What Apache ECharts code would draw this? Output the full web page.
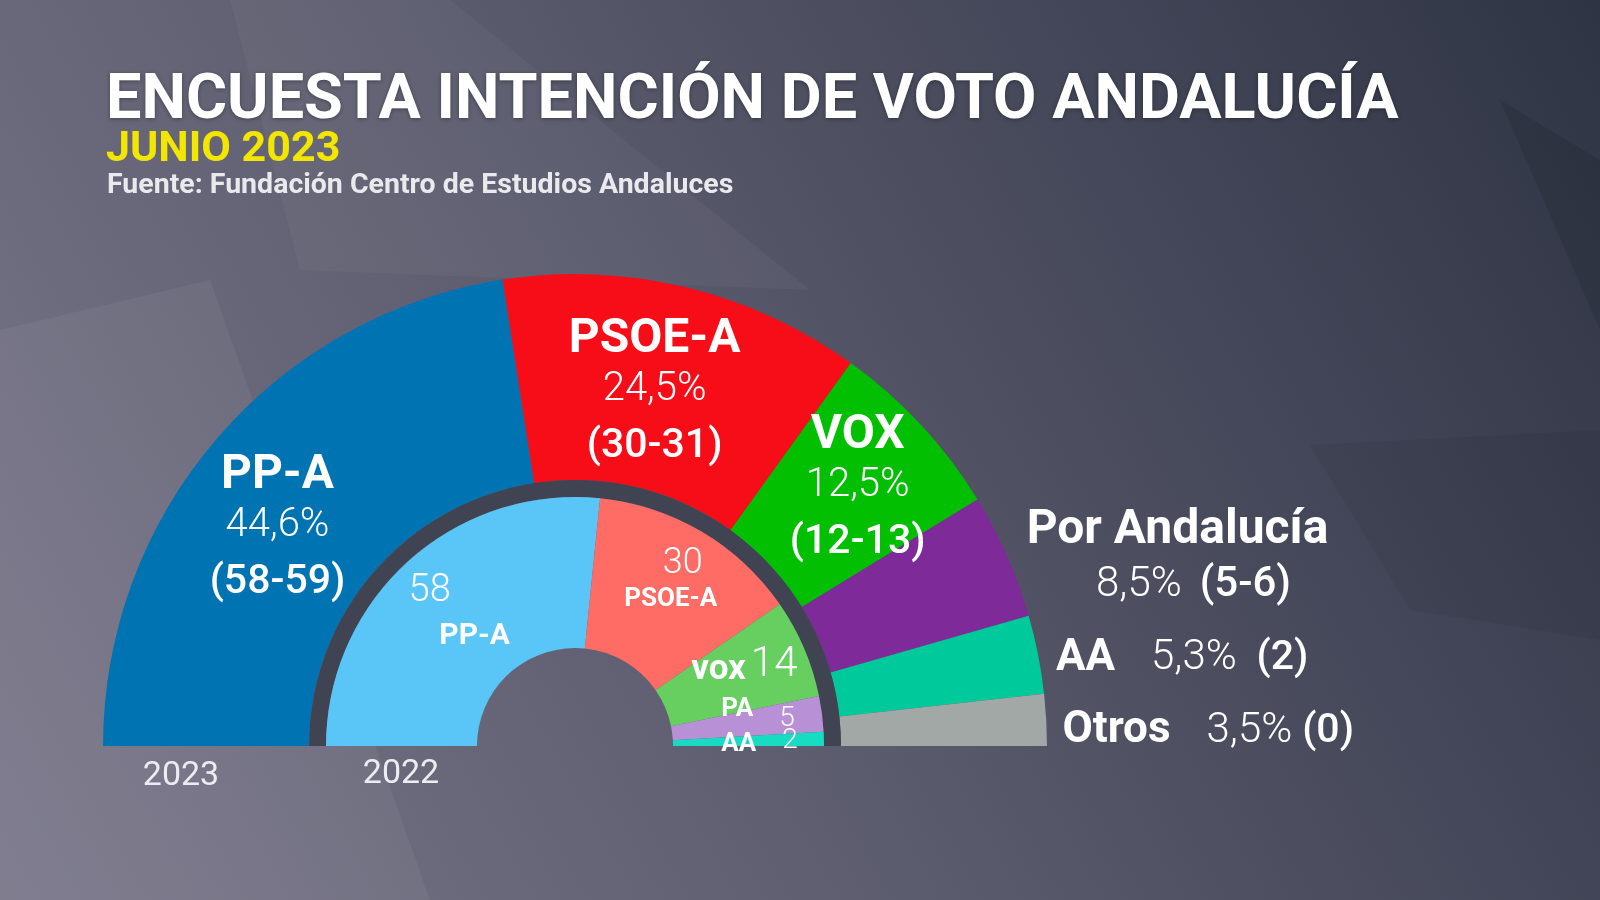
<!DOCTYPE html>
<html>
<head>
<meta charset="utf-8">
<title>Encuesta intención de voto Andalucía</title>
<script src="https://cdn.jsdelivr.net/npm/echarts@6/dist/echarts.min.js"></script>
<style>
	* { margin: 0; padding: 0; }
	html, body { width: 100%; height: 100%; }
	#main { width: 1600px; height: 900px; }
</style>
</head>
<body>
<div id="main"></div>
<script type="text/javascript">
	// ---- datos ----
	var titleText = 'ENCUESTA INTENCIÓN DE VOTO ANDALUCÍA';
	var subtitleText = 'JUNIO 2023';
	var sourceText = 'Fuente: Fundación Centro de Estudios Andaluces';
	var yearLabels = ['2023', '2022'];

	// encuesta 2023 (anillo exterior)
	var parties2023 = ['PP-A', 'PSOE-A', 'VOX', 'Por Andalucía', 'AA', 'Otros'];
	var votePct2023 = [44.6, 24.5, 12.5, 8.5, 5.3, 3.5];
	var seatRange2023 = ['58-59', '30-31', '12-13', '5-6', '2', '0'];
	var colors2023 = ['#0073b3', '#f70d18', '#02bf02', '#7e2a99', '#00c99b', '#a1a8a5'];

	// elecciones 2022 (anillo interior)
	var parties2022 = ['PP-A', 'PSOE-A', 'vox', 'PA', 'AA'];
	var seats2022 = [58, 30, 14, 5, 2];
	var colors2022 = ['#5ac5f7', '#ff6b65', '#66cf60', '#b890d6', '#17dbc3'];

	var FONT = 'Roboto';
	var CX = 575, CY = 746;

	function fmtPct(v) {
		return v.toFixed(1).replace('.', ',') + '%';
	}

	var myChart = echarts.init(document.getElementById('main'));

	var data2023 = [];
	for (var i = 0; i < parties2023.length; i++) {
		data2023.push({ name: parties2023[i], value: votePct2023[i], itemStyle: { color: colors2023[i] } });
	}
	var data2022 = [];
	for (var i = 0; i < parties2022.length; i++) {
		data2022.push({ name: parties2022[i], value: seats2022[i], itemStyle: { color: colors2022[i] } });
	}

	// desplazamientos de etiquetas respecto a la posicion 'inside' del sector
	var outerLabelShift = [
		{ dx: -15, dy: 29 },
		{ dx: -7, dy: 13 },
		{ dx: 10, dy: 0 },
		{ dx: 262, dy: -35 },
		{ dx: 116, dy: -15, align: 'left' },
		{ dx: 116, dy: 6, align: 'left' }
	];
	var innerLabelShift = [
		{ dx: 18, dy: -2 },
		{ dx: 6, dy: -14 },
		{ dx: 7, dy: -11 },
		{ dx: 8, dy: -14 },
		{ dx: 8, dy: 4 }
	];

	var bg = new echarts.graphic.LinearGradient(0, 1, 1, 0, [
		{ offset: 0, color: '#7a778a' },
		{ offset: 0.45, color: '#5a5b6d' },
		{ offset: 1, color: '#2f3445' }
	]);

	option = {
		backgroundColor: bg,
		animation: false,
		title: [{
			text: titleText,
			left: 106, top: 71, padding: 0,
			textStyle: { fontFamily: FONT, fontSize: 63, fontWeight: 'bold', color: '#ffffff', lineHeight: 63,
				textShadowColor: 'rgba(0,0,0,0.35)', textShadowBlur: 4, textShadowOffsetY: 1 }
		}, {
			text: subtitleText,
			left: 106, top: 129, padding: 0,
			textStyle: { fontFamily: FONT, fontSize: 43, fontWeight: 'bold', color: '#f3e600', lineHeight: 43 }
		}, {
			text: sourceText,
			left: 107, top: 171, padding: 0,
			textStyle: { fontFamily: FONT, fontSize: 28.5, fontWeight: 'bold', color: '#e9e9ee', lineHeight: 30 }
		}],
		graphic: [
			// facetas del fondo
			{ type: 'polygon', silent: true, z: -10, shape: { points: [[0, 900], [0, 330], [210, 280], [430, 900]] },
				style: { fill: 'rgba(255,255,255,0.05)' } },
			{ type: 'polygon', silent: true, z: -10, shape: { points: [[230, 0], [450, 0], [810, 290], [300, 270]] },
				style: { fill: 'rgba(255,255,255,0.035)' } },
			{ type: 'polygon', silent: true, z: -10, shape: { points: [[1310, 445], [1600, 430], [1600, 640], [1410, 610]] },
				style: { fill: 'rgba(0,0,0,0.05)' } },
			{ type: 'polygon', silent: true, z: -10, shape: { points: [[1500, 100], [1600, 160], [1600, 330]] },
				style: { fill: 'rgba(0,0,0,0.1)' } },
			{ type: 'text', silent: true, style: { text: yearLabels[0], x: 181, y: 776, align: 'center', verticalAlign: 'middle',
				font: '34px ' + FONT, fill: '#ececf2' } },
			{ type: 'text', silent: true, style: { text: yearLabels[1], x: 401, y: 774, align: 'center', verticalAlign: 'middle',
				font: '34px ' + FONT, fill: '#ececf2' } }
		],
		series: [{
			// anillo exterior 2023
			name: yearLabels[0],
			type: 'pie',
			center: [CX, CY],
			radius: [266, 472],
			startAngle: 180,
			endAngle: 0,
			clockwise: true,
			silent: true,
			itemStyle: { borderWidth: 0 },
			labelLine: { show: false },
			label: {
				show: true,
				position: 'inside',
				color: '#ffffff',
				fontFamily: FONT,
				fontSize: 40,
				formatter: function (p) {
					var i = p.dataIndex;
					var nm = parties2023[i], pc = fmtPct(votePct2023[i]), st = '(' + seatRange2023[i] + ')';
					if (i < 3) return '{name|' + nm + '}\n{pct|' + pc + '}\n{seat|' + st + '}';
					if (i == 3) return '{name|' + nm + '}\n{pct2|' + pc + '}{seat2|' + st + '}';
					return '{sname|' + nm + '}{spct|' + pc + '}' + (i == 4 ? '  ' : ' ') + '{sseat|' + st + '}';
				},
				rich: {
					name: { fontFamily: FONT, fontSize: 48, fontWeight: 'bold', color: '#fff', lineHeight: 48 },
					pct: { fontFamily: FONT, fontSize: 40, fontWeight: 300, color: '#fff', lineHeight: 52 },
					seat: { fontFamily: FONT, fontSize: 41, fontWeight: 500, color: '#fff', lineHeight: 62 },
					pct2: { fontFamily: FONT, fontSize: 42, fontWeight: 300, color: '#fff', lineHeight: 60, padding: [0, 0, 0, 32] },
					seat2: { fontFamily: FONT, fontSize: 42, fontWeight: 500, color: '#fff', lineHeight: 60, padding: [0, 0, 0, 18] },
					sname: { fontFamily: FONT, fontSize: 44, fontWeight: 'bold', color: '#fff', lineHeight: 50, padding: [0, 36, 0, 0] },
					spct: { fontFamily: FONT, fontSize: 42, fontWeight: 300, color: '#fff', lineHeight: 50 },
					sseat: { fontFamily: FONT, fontSize: 41, fontWeight: 500, color: '#fff', lineHeight: 50 }
				}
			},
			labelLayout: function (params) {
				return outerLabelShift[params.dataIndex];
			},
			data: data2023
		}, {
			// franja oscura entre anillos
			type: 'pie',
			center: [CX, CY],
			radius: [249, 266],
			startAngle: 180,
			endAngle: 0,
			silent: true,
			label: { show: false },
			labelLine: { show: false },
			itemStyle: { color: '#404352', borderWidth: 0 },
			data: [{ name: '', value: 1 }]
		}, {
			// anillo interior 2022
			name: yearLabels[1],
			type: 'pie',
			center: [CX, CY],
			radius: [98, 249],
			startAngle: 180,
			endAngle: 0,
			clockwise: true,
			silent: true,
			itemStyle: { borderWidth: 0 },
			labelLine: { show: false },
			label: {
				show: true,
				position: 'inside',
				color: '#ffffff',
				fontFamily: FONT,
				formatter: function (p) {
					var i = p.dataIndex, nm = parties2022[i], n = seats2022[i];
					if (i == 0) return '{n0|' + n + '}\n{b|' + nm + '}';
					if (i == 1) return '{n1|' + n + '}\n{b1|' + nm + '}';
					if (i == 2) return '{bv|' + nm + '}{n2|' + n + '}';
					if (i == 3) return '{bs|' + nm + '}{n3|' + n + '}';
					return '{bs|' + nm + '}{n4|' + n + '}';
				},
				rich: {
					n0: { fontFamily: FONT, fontSize: 38, fontWeight: 300, color: '#fff', lineHeight: 46, padding: [0, 90, 0, 0] },
					b: { fontFamily: FONT, fontSize: 30, fontWeight: 'bold', color: '#fff', lineHeight: 44 },
					n1: { fontFamily: FONT, fontSize: 36, fontWeight: 300, color: '#fff', lineHeight: 38, padding: [0, 0, 0, 24] },
					b1: { fontFamily: FONT, fontSize: 26, fontWeight: 'bold', color: '#fff', lineHeight: 33 },
					bv: { fontFamily: FONT, fontSize: 35, fontWeight: 'bold', color: '#fff', lineHeight: 44, padding: [10, 5, 0, 0] },
					n2: { fontFamily: FONT, fontSize: 42, fontWeight: 300, color: '#fff', lineHeight: 44 },
					bs: { fontFamily: FONT, fontSize: 26, fontWeight: 'bold', color: '#fff', lineHeight: 30, padding: [0, 26, 0, 0] },
					n3: { fontFamily: FONT, fontSize: 28, fontWeight: 300, color: '#fff', lineHeight: 30, padding: [20, 0, 0, 0] },
					n4: { fontFamily: FONT, fontSize: 28, fontWeight: 300, color: '#fff', lineHeight: 30, padding: [0, 0, 8, 0] }
				}
			},
			labelLayout: function (params) {
				return innerLabelShift[params.dataIndex];
			},
			data: data2022
		}]
	};

	myChart.setOption(option);
</script>
</body>
</html>
